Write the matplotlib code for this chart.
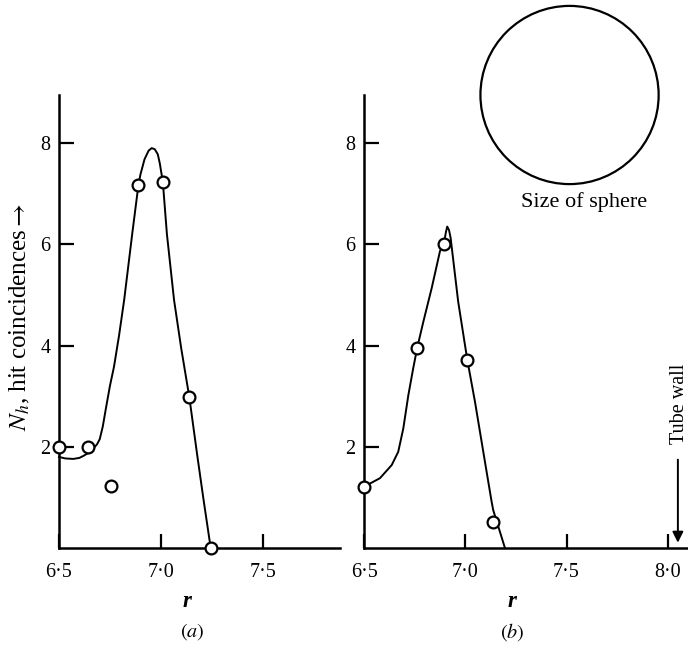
import matplotlib
matplotlib.use('Agg')
import matplotlib.pyplot as plt
from matplotlib.patches import Ellipse

plt.rcParams['font.family'] = ['Liberation Serif', 'DejaVu Serif']
plt.rcParams['mathtext.fontset'] = 'stix'

# panel (a): measured points and the drawn curve
r_pts_a = [6.50, 6.64, 6.757, 6.89, 7.01, 7.14, 7.245]
n_pts_a = [2.00, 2.00, 1.22, 7.17, 7.23, 2.98, 0.00]
r_curve_a = [6.50, 6.53, 6.57, 6.60, 6.62, 6.645, 6.665, 6.687, 6.70, 6.715, 6.73,
             6.75, 6.77, 6.795, 6.82, 6.86, 6.89, 6.90, 6.92, 6.94, 6.955, 6.97,
             6.985, 6.995, 7.01, 7.03, 7.065, 7.10, 7.14, 7.18, 7.21, 7.245]
n_curve_a = [1.80, 1.77, 1.76, 1.78, 1.82, 1.88, 1.95, 2.05, 2.15, 2.40, 2.75,
             3.20, 3.58, 4.20, 4.90, 6.22, 7.17, 7.38, 7.68, 7.85, 7.90, 7.88,
             7.78, 7.60, 7.23, 6.20, 4.90, 3.95, 2.98, 1.80, 0.95, 0.00]

# panel (b)
r_pts_b = [6.50, 6.763, 6.896, 7.01, 7.138]
n_pts_b = [1.21, 3.96, 6.00, 3.72, 0.51]
r_curve_b = [6.50, 6.579, 6.637, 6.669, 6.694, 6.719, 6.743, 6.763, 6.793, 6.834,
             6.875, 6.896, 6.905, 6.911, 6.92, 6.928, 6.965, 7.01, 7.048, 7.097,
             7.13, 7.138, 7.196]
n_curve_b = [1.21, 1.38, 1.64, 1.90, 2.36, 3.02, 3.55, 3.96, 4.47, 5.13,
             5.86, 6.05, 6.25, 6.35, 6.28, 6.12, 4.87, 3.72, 2.89, 1.71,
             0.92, 0.75, 0.00]

xticks_a = [6.5, 7.0, 7.5]
xticks_b = [6.5, 7.0, 7.5, 8.0]
yticks = [2, 4, 6, 8]

sphere_d = 0.88          # diameter in units of r
sphere_c = (7.515, 8.95)
tube_wall_r = 8.05

FS = 14.5

fig = plt.figure(figsize=(6.88, 6.53), dpi=100)
ax_a = fig.add_axes([59 / 688, 1 - 548 / 653, 281 / 688, 453 / 653])
ax_b = fig.add_axes([364 / 688, 1 - 548 / 653, 324 / 688, 453 / 653])


def style(ax, xmax, xticks):
    ax.set_xlim(6.5, xmax)
    ax.set_ylim(0, 8.95)
    for s in ['top', 'right']:
        ax.spines[s].set_visible(False)
    for s in ['left', 'bottom']:
        ax.spines[s].set_linewidth(1.8)
    ax.set_xticks(xticks)
    ax.set_xticklabels([('%.1f' % t).replace('.', '\u00b7') for t in xticks])
    ax.set_yticks(yticks)
    ax.set_yticklabels([str(t) for t in yticks])
    ax.tick_params(axis='x', direction='in', length=10, width=1.6, pad=11, labelsize=FS)
    ax.tick_params(axis='y', direction='in', length=11, width=1.6, pad=6, labelsize=FS)
    ax.set_xlabel('r', fontsize=FS + 2, fontstyle='italic', fontweight='bold', labelpad=8)


style(ax_a, 7.88, xticks_a)
style(ax_b, 8.1, xticks_b)

for ax, rc, nc, rp, npnt in [(ax_a, r_curve_a, n_curve_a, r_pts_a, n_pts_a),
                              (ax_b, r_curve_b, n_curve_b, r_pts_b, n_pts_b)]:
    ax.plot(rc, nc, color='black', lw=1.4, clip_on=False, zorder=3,
            solid_joinstyle='round')
    ax.plot(rp, npnt, 'o', ms=8.5, mfc='white', mec='black', mew=1.6,
            clip_on=False, zorder=4)

ax_a.xaxis.set_label_coords(0.455, -0.095)
ax_b.xaxis.set_label_coords(0.457, -0.095)
ax_a.set_ylabel(r'$N_h$, hit coincidences$\rightarrow$', fontsize=18)
ax_a.yaxis.set_label_coords(-0.095, 0.51)

fig.text(192 / 688, 1 - 632 / 653, r'$(a)$', fontsize=FS, ha='center', va='center')
fig.text(512 / 688, 1 - 632 / 653, r'$(b)$', fontsize=FS, ha='center', va='center')

# sphere drawn to scale in r, corrected for the axes aspect
p0 = ax_b.transData.transform((6.5, 0))
p1 = ax_b.transData.transform((7.5, 1))
px_per_r = p1[0] - p0[0]
px_per_n = p1[1] - p0[1]
ax_b.add_patch(Ellipse(sphere_c, sphere_d, sphere_d * px_per_r / px_per_n,
                       fill=False, ec='black', lw=1.6, clip_on=False))
ax_b.text(7.585, 6.84, 'Size of sphere', fontsize=16, ha='center', va='center')

ax_b.annotate('', xy=(tube_wall_r, 0.05), xytext=(tube_wall_r, 1.8),
              arrowprops=dict(arrowstyle='-|>', color='black', lw=1.4,
                              mutation_scale=16), annotation_clip=False)
ax_b.text(8.06, 2.85, 'Tube wall', rotation=90, fontsize=FS, ha='center', va='center',
          clip_on=False)

fig.savefig('out.png', dpi=100)
